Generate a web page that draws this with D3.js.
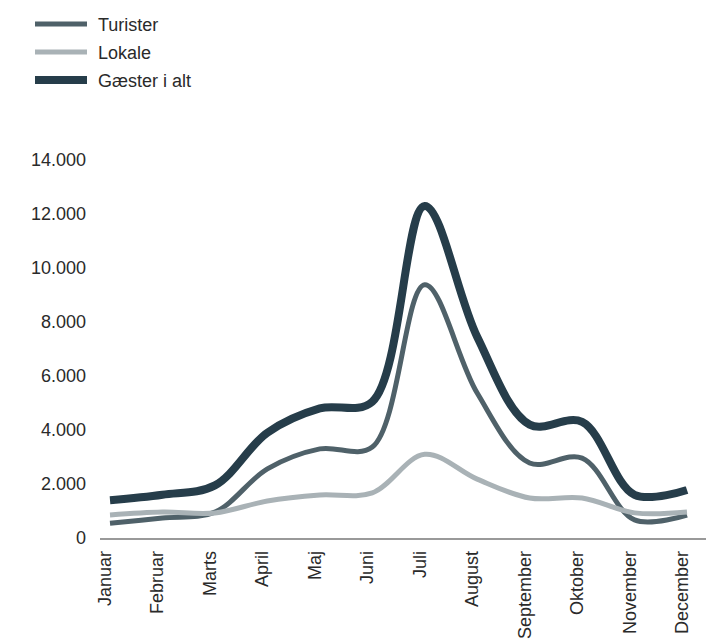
<!DOCTYPE html>
<html>
<head>
<meta charset="utf-8">
<script src="https://cdn.jsdelivr.net/npm/d3@7"></script>
<style>
  html, body { margin: 0; padding: 0; background: #fff; }
  svg { display: block; font-family: "Liberation Sans", Arial, sans-serif; }
</style>
</head>
<body>
<svg id="chart" width="706" height="644"></svg>
<script>
const months = ["Januar","Februar","Marts","April","Maj","Juni","Juli","August","September","Oktober","November","December"];
const turister = [550, 740, 960, 2560, 3300, 3370, 9380, 5370, 2780, 2960, 670, 850];
const lokale = [850, 960, 930, 1370, 1590, 1670, 3100, 2180, 1480, 1480, 930, 960];
const gaester = [1400, 1600, 1950, 3900, 4800, 5050, 12300, 7450, 4200, 4300, 1600, 1780];
const yTicks = [0, 2000, 4000, 6000, 8000, 10000, 12000, 14000];
const seriesNames = ["Turister", "Lokale", "Gæster i alt"];

const series = [
  { name: seriesNames[0], values: turister, color: "#4f6169", width: 5 },
  { name: seriesNames[1], values: lokale, color: "#a9b2b6", width: 5 },
  { name: seriesNames[2], values: gaester, color: "#263d4a", width: 8 }
];

const svg = d3.select("#chart");
const x = d3.scalePoint().domain(months).range([110, 687]);
const y = d3.scaleLinear().domain([0, 14000]).range([538, 160]);
const fmt = v => d3.format(",")(v).replace(/,/g, ".");

// y labels
svg.append("g").selectAll("text").data(yTicks).join("text")
  .attr("x", 86).attr("y", d => y(d))
  .attr("dy", "0.35em")
  .attr("text-anchor", "end")
  .attr("font-size", 18).attr("fill", "#2a2a2a")
  .text(d => fmt(d));

// x axis line
svg.append("line").attr("x1", 100).attr("x2", 706)
  .attr("y1", y(0) + 1).attr("y2", y(0) + 1)
  .attr("stroke", "#777").attr("stroke-width", 1.5);

// x labels
svg.append("g").selectAll("text").data(months).join("text")
  .attr("transform", d => `translate(${x(d) + 1},${y(0) + 13}) rotate(-90)`)
  .attr("text-anchor", "end")
  .attr("font-size", 18).attr("fill", "#2a2a2a")
  .text(d => d);

// lines
const line = d3.line().x((d, i) => x(months[i])).y(d => y(d)).curve(d3.curveCatmullRom.alpha(0.5));
svg.append("g").selectAll("path").data(series).join("path")
  .attr("d", d => line(d.values))
  .attr("fill", "none")
  .attr("stroke", d => d.color)
  .attr("stroke-width", d => d.width)
  .attr("stroke-linejoin", "round");

// legend
const legendY = [24, 52, 80];
const lg = svg.append("g").selectAll("g").data(series).join("g")
  .attr("transform", (d, i) => `translate(0,${legendY[i]})`);
lg.append("line").attr("x1", 35).attr("x2", 87).attr("y1", 0).attr("y2", 0)
  .attr("stroke", d => d.color).attr("stroke-width", d => d.width);
lg.append("text").attr("x", 98).attr("y", 6.5)
  .attr("font-size", 18).attr("fill", "#2a2a2a")
  .text(d => d.name);
</script>
</body>
</html>
